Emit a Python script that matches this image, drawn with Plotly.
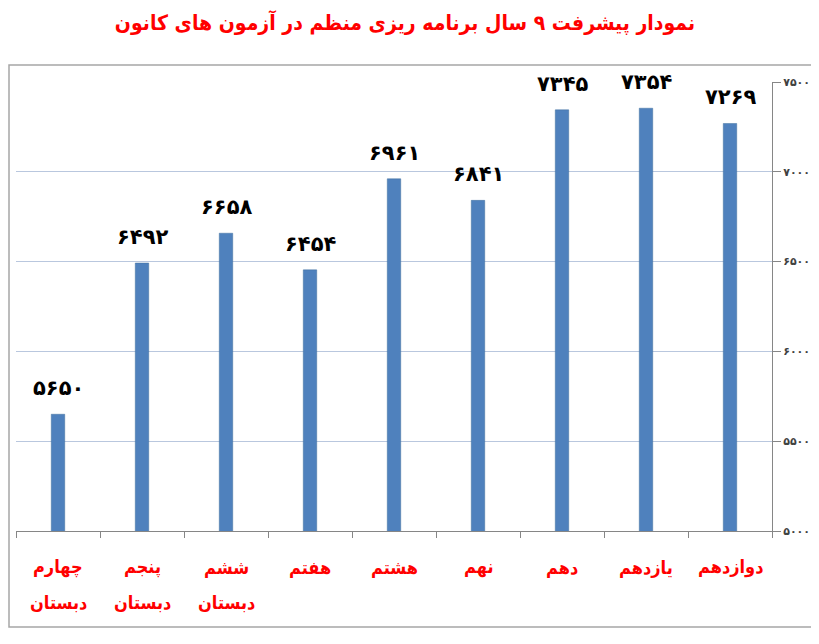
import plotly.graph_objects as go

categories = ["چهارم دبستان", "پنجم دبستان", "ششم دبستان", "هفتم", "هشتم",
              "نهم", "دهم", "یازدهم", "دوازدهم"]
values = [5650, 6492, 6658, 6454, 6961, 6841, 7345, 7354, 7269]
y_ticks = [5000, 5500, 6000, 6500, 7000, 7500]
title_text = "نمودار پیشرفت ۹ سال برنامه ریزی منظم در آزمون های کانون"

FA = "۰۱۲۳۴۵۶۷۸۹"
def fa(n):
    return "".join(FA[int(c)] if c.isdigit() else c for c in str(n))

OFF = 8  # page body margin
W, H = 819 - OFF, 644 - OFF
L, R, T, B = 16 - OFF, 772 - OFF, 82 - OFF, 531 - OFF
pw, ph = R - L, B - T
def px(x):
    return (x - OFF - L) / pw
def py(y):
    return (B - (y - OFF)) / ph

FONT = "DejaVu Sans"
FONTC = "DejaVu Sans Condensed"

fig = go.Figure()
fig.add_trace(go.Bar(
    x=categories, y=values,
    marker=dict(color="#4F81BD", line=dict(color="#41709F", width=0.5)),
    hoverinfo="x+y",
))

annotations = []
for c, v in zip(categories, values):
    annotations.append(dict(
        x=c, y=v, xref="x", yref="y", text="<b>" + fa(v) + "</b>",
        showarrow=False, yanchor="bottom", yshift=12,
        font=dict(family=FONT, size=21, color="#000000")))
    parts = c.split(" ")
    for i, part in enumerate(parts):
        annotations.append(dict(
            x=c, y=py(567 + 35 * i), xref="x", yref="paper",
            text="<b>" + part + "</b>", showarrow=False, yanchor="middle",
            font=dict(family=FONTC, size=18, color="#FF0000")))

fig.update_layout(
    width=W, height=H,
    margin=dict(l=L, r=W - R, t=T, b=H - B),
    paper_bgcolor="white", plot_bgcolor="white",
    bargap=0.84,
    showlegend=False,
    title=dict(text="<b>" + title_text + "</b>", x=(405 - OFF) / W,
               xanchor="center", xref="container",
               y=1 - (23 - OFF) / H, yanchor="middle", yref="container",
               font=dict(family=FONTC, size=21, color="#FF0000")),
    xaxis=dict(showticklabels=False, ticks="outside", tickson="boundaries",
               ticklen=6, tickcolor="#868686", showline=True,
               linecolor="#868686", linewidth=1, showgrid=False,
               fixedrange=True),
    yaxis=dict(side="right", range=[5000, 7500], tickvals=y_ticks,
               ticktext=["<b>" + fa(t) + "</b>" for t in y_ticks],
               ticks="outside",
               ticklen=8, tickcolor="#868686", showline=True,
               linecolor="#868686", linewidth=1, showgrid=True,
               gridcolor="#B9C7DE", gridwidth=1, zeroline=False,
               tickfont=dict(family=FONT, size=11, color="#404040"),
               fixedrange=True),
    annotations=annotations,
    shapes=[dict(type="rect", xref="paper", yref="paper",
                 x0=px(OFF + 1), x1=px(817), y0=py(627), y1=py(65),
                 line=dict(color="#A6A6A6", width=1.5), layer="below")],
)

fig.write_html("out.html")
